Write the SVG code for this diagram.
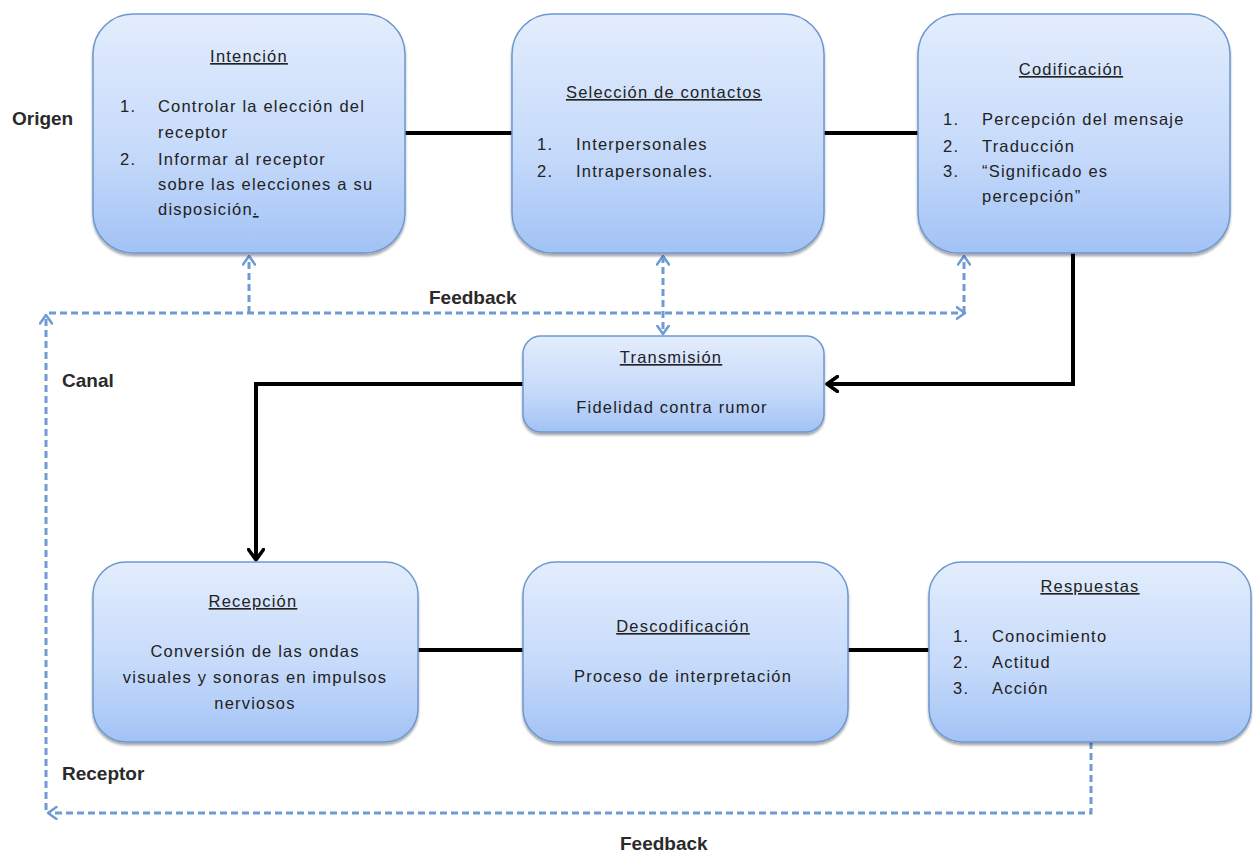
<svg xmlns="http://www.w3.org/2000/svg" width="1253" height="855" viewBox="0 0 1253 855">
<defs>
<linearGradient id="g" x1="0" y1="0" x2="0" y2="1">
<stop offset="0" stop-color="#e3edfd"/>
<stop offset="0.6" stop-color="#c4d9fa"/>
<stop offset="1" stop-color="#a2c2f5"/>
</linearGradient>
<filter id="sh" x="-5%" y="-5%" width="110%" height="115%">
<feDropShadow dx="0" dy="2.5" stdDeviation="1.2" flood-color="#000" flood-opacity="0.35"/>
</filter>
<marker id="ab" viewBox="0 0 14 18" refX="12" refY="9" markerWidth="14" markerHeight="18" markerUnits="userSpaceOnUse" orient="auto">
<path d="M1.5,1.5 L12,9 L1.5,16.5" fill="none" stroke="#000" stroke-width="3.5" stroke-linecap="round" stroke-linejoin="round"/>
</marker>
<marker id="ad" viewBox="0 0 11 14" refX="9.5" refY="7" markerWidth="11" markerHeight="14" markerUnits="userSpaceOnUse" orient="auto-start-reverse">
<path d="M1,1 L9.5,7 L1,13" fill="none" stroke="#6f9bd3" stroke-width="2.5" stroke-linecap="round" stroke-linejoin="round"/>
</marker>
</defs>
<style>
.box{fill:url(#g);stroke:#6d98cf;stroke-width:1.5;filter:url(#sh)}
.t{font-family:"Liberation Sans",Arial,sans-serif;font-size:16.5px;fill:#222;letter-spacing:1.2px}
.h{text-decoration:underline;text-anchor:middle}
.c{text-anchor:middle}
.lbl{font-family:"Liberation Sans",Arial,sans-serif;font-size:19px;font-weight:bold;fill:#2a2a2a}
.blk{fill:none;stroke:#000;stroke-width:4}
.dsh{fill:none;stroke:#6f9bd3;stroke-width:3;stroke-dasharray:7 4}
</style>
<rect width="1253" height="855" fill="#fff"/>
<g id="connectors">
<path class="blk" d="M405,133 H512"/>
<path class="blk" d="M824,133 H918"/>
<path class="blk" d="M1073,253 V384 H827" marker-end="url(#ab)"/>
<path class="blk" d="M523,384 H256 V560" marker-end="url(#ab)"/>
<path class="blk" d="M418,650 H523"/>
<path class="blk" d="M848,650 H929"/>
<path class="dsh" d="M1091,742 V813 H48" marker-end="url(#ad)"/>
<path class="dsh" d="M46,810 V315" marker-end="url(#ad)"/>
<path class="dsh" d="M49,313 H965" marker-end="url(#ad)"/>
<path class="dsh" d="M964,313 V256" marker-end="url(#ad)"/>
<path class="dsh" d="M249,313 V256" marker-end="url(#ad)"/>
<path class="dsh" d="M663,256 V334" marker-start="url(#ad)" marker-end="url(#ad)"/>
</g>
<g id="labels">
<text class="lbl" x="12" y="125">Origen</text>
<text class="lbl" x="62" y="387">Canal</text>
<text class="lbl" x="429" y="304">Feedback</text>
<text class="lbl" x="62" y="780">Receptor</text>
<text class="lbl" x="620" y="850">Feedback</text>
</g>
<g id="intencion">
<rect class="box" x="93" y="14" width="312" height="239" rx="40"/>
<text class="t h" x="249" y="62">Intención</text>
<text class="t" x="120" y="112">1.</text>
<text class="t" x="158" y="112">Controlar la elección del</text>
<text class="t" x="158" y="138">receptor</text>
<text class="t" x="120" y="165">2.</text>
<text class="t" x="158" y="165">Informar al receptor</text>
<text class="t" x="158" y="190">sobre las elecciones a su</text>
<text class="t" x="158" y="215">disposición<tspan text-decoration="underline">.</tspan></text>
</g>
<g id="seleccion">
<rect class="box" x="512" y="14" width="312" height="239" rx="40"/>
<text class="t h" x="664" y="98">Selección de contactos</text>
<text class="t" x="537" y="150">1.</text>
<text class="t" x="576" y="150">Interpersonales</text>
<text class="t" x="537" y="177">2.</text>
<text class="t" x="576" y="177">Intrapersonales.</text>
</g>
<g id="codificacion">
<rect class="box" x="918" y="14" width="312" height="239" rx="40"/>
<text class="t h" x="1071" y="75">Codificación</text>
<text class="t" x="943" y="125">1.</text>
<text class="t" x="982" y="125">Percepción del mensaje</text>
<text class="t" x="943" y="152">2.</text>
<text class="t" x="982" y="152">Traducción</text>
<text class="t" x="943" y="177">3.</text>
<text class="t" x="982" y="177">“Significado es</text>
<text class="t" x="982" y="202">percepción”</text>
</g>
<g id="transmision">
<rect class="box" x="523" y="336" width="301" height="96" rx="18"/>
<text class="t h" x="671" y="363">Transmisión</text>
<text class="t c" x="672" y="413">Fidelidad contra rumor</text>
</g>
<g id="recepcion">
<rect class="box" x="93" y="562" width="325" height="180" rx="33"/>
<text class="t h" x="253" y="607">Recepción</text>
<text class="t c" x="255" y="657">Conversión de las ondas</text>
<text class="t c" x="255" y="683">visuales y sonoras en impulsos</text>
<text class="t c" x="255" y="709">nerviosos</text>
</g>
<g id="descodificacion">
<rect class="box" x="523" y="562" width="325" height="180" rx="33"/>
<text class="t h" x="683" y="632">Descodificación</text>
<text class="t c" x="683" y="682">Proceso de interpretación</text>
</g>
<g id="respuestas">
<rect class="box" x="929" y="562" width="322" height="180" rx="33"/>
<text class="t h" x="1090" y="592">Respuestas</text>
<text class="t" x="953" y="642">1.</text>
<text class="t" x="992" y="642">Conocimiento</text>
<text class="t" x="953" y="668">2.</text>
<text class="t" x="992" y="668">Actitud</text>
<text class="t" x="953" y="694">3.</text>
<text class="t" x="992" y="694">Acción</text>
</g>
</svg>
